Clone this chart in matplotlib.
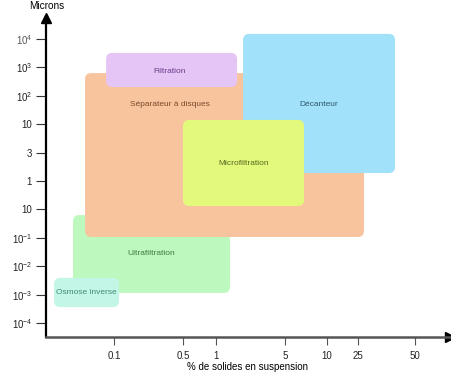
import numpy as np
import matplotlib
matplotlib.use('Agg')
import matplotlib.pyplot as plt
from matplotlib.patches import FancyBboxPatch

plt.rcParams['font.family'] = ['Liberation Sans', 'DejaVu Sans']
plt.rcParams['mathtext.fontset'] = 'custom'
plt.rcParams['mathtext.rm'] = 'Liberation Sans'
plt.rcParams['mathtext.it'] = 'Liberation Sans:italic'

# axe x : % de solides (positions sur l'echelle du schema)
x_ticks = [-1.0, -0.32, 0.0, 0.676, 1.088, 1.392, 1.951]
x_labels = ['0.1', '0.5', '1', '5', '10', '25', '50']

# axe y : niveaux en microns (du bas vers le haut)
y_labels = [r'$10^{-4}$', r'$10^{-3}$', r'$10^{-2}$', r'$10^{-1}$', '10', '1', '3', '10',
            r'$10^{2}$', r'$10^{3}$', r'$\mathit{10}^{\mathit{4}}$']

# zones : nom, x0, x1, y0, y1, position du texte
noms = ['Ultrafiltration', 'Osmose inverse', 'Séparateur à disques', 'Décanteur',
        'Filtration', 'Microfiltration']
x0 = [-1.402, -1.588, -1.284, 0.265, -1.078, -0.324]
x1 = [0.137, -0.951, 1.451, 1.755, 0.206, 0.863]
y0 = [1.06, 0.56, 3.03, 5.28, 8.31, 4.12]
y1 = [3.80, 1.59, 8.80, 10.18, 9.51, 7.15]
tx = [-0.637, -1.275, -0.451, 1.01, -0.451, 0.275]
ty = [2.43, 1.09, 7.71, 7.71, 8.87, 5.63]
couleurs = ['#bdf8be', '#c4f6e7', '#f7c49d', '#a1e1f9', '#e5c5f5', '#e2f97c']
couleurs_texte = ['#3f7a45', '#3d8a78', '#7a4a2a', '#2e5a6e', '#6a3d8a', '#55691e']

fig = plt.figure(figsize=(4.52, 3.74), dpi=100)
ax = fig.add_axes([46/452, 37/374, 404/452, 319/374])
ax.set_xlim(-1.667, 2.294)
ax.set_ylim(-0.493, 10.74)

asp = 102 / 28.4
for i in range(len(noms)):
    p = FancyBboxPatch((x0[i], y0[i]), x1[i] - x0[i], y1[i] - y0[i],
                       boxstyle='round,pad=0,rounding_size=0.06',
                       mutation_aspect=asp, fc=couleurs[i], ec='none')
    ax.add_patch(p)
    ax.text(tx[i], ty[i], noms[i], ha='center', va='center', fontsize=6,
            color=couleurs_texte[i])

ax.set_xticks(x_ticks)
ax.set_xticklabels(x_labels, fontsize=7, color='#222222')
ax.set_yticks(range(len(y_labels)))
ax.set_yticklabels(y_labels, fontsize=7, color='#222222')
ax.get_yticklabels()[-1].set_color('#555555')
ax.tick_params(axis='x', length=6, width=0.8, color='#555555', pad=4)
ax.tick_params(axis='y', length=7, width=0.8, color='#333333', pad=3)

for s in ['top', 'right']:
    ax.spines[s].set_visible(False)
ax.spines['left'].set_linewidth(1.6)
ax.spines['left'].set_color('black')
ax.spines['bottom'].set_linewidth(1.8)
ax.spines['bottom'].set_color('#555555')

ax.plot(0, 1, marker='^', ms=7, color='black', transform=ax.transAxes, clip_on=False)
ax.plot(1, 0, marker='>', ms=7, color='black', transform=ax.transAxes, clip_on=False)

ax.set_xlabel('% de solides en suspension', fontsize=7, labelpad=1)
fig.text(47/452, 1 - 6/374, 'Microns', ha='center', va='center', fontsize=7.2)

fig.savefig('out.png', dpi=100)
